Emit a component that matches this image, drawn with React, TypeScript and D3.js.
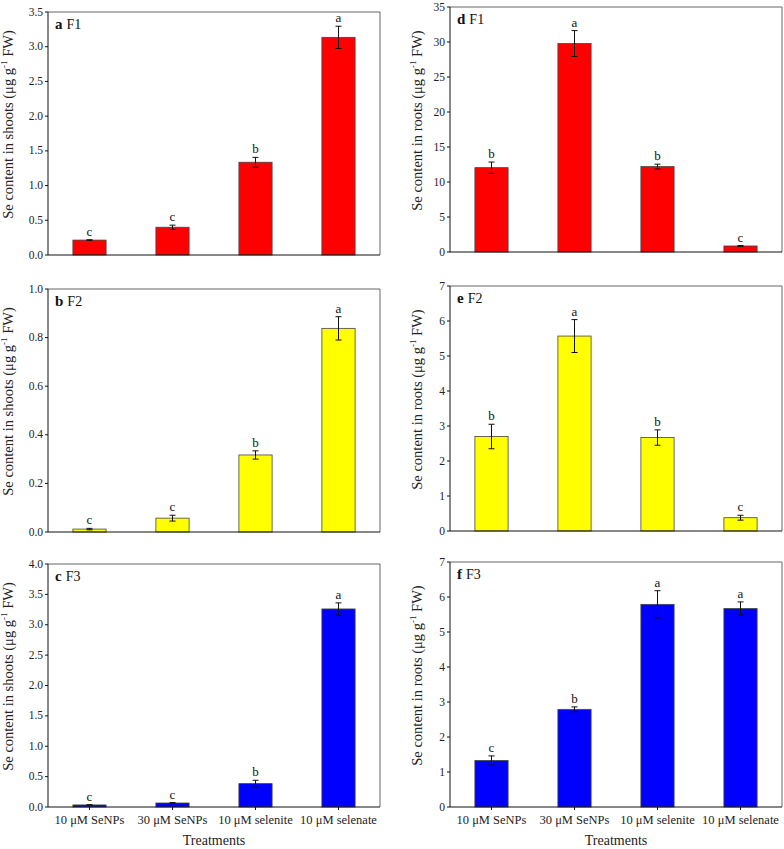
import React from "react";
import * as d3 from "d3";

const categories = ["10 μM SeNPs", "30 μM SeNPs", "10 μM selenite", "10 μM selenate"];

const shootF1 = [0.215, 0.4, 1.336, 3.135];
const shootF1Err = [0.005, 0.03, 0.07, 0.16];
const shootF1Sig = ["c", "c", "b", "a"];

const shootF2 = [0.012, 0.057, 0.317, 0.838];
const shootF2Err = [0.003, 0.012, 0.017, 0.048];
const shootF2Sig = ["c", "c", "b", "a"];

const shootF3 = [0.034, 0.066, 0.385, 3.26];
const shootF3Err = [0.004, 0.006, 0.055, 0.1];
const shootF3Sig = ["c", "c", "b", "a"];

const rootF1 = [12.05, 29.78, 12.2, 0.86];
const rootF1Err = [0.8, 1.85, 0.35, 0.06];
const rootF1Sig = ["b", "a", "b", "c"];

const rootF2 = [2.7, 5.57, 2.67, 0.38];
const rootF2Err = [0.35, 0.47, 0.22, 0.07];
const rootF2Sig = ["b", "a", "b", "c"];

const rootF3 = [1.33, 2.79, 5.79, 5.67];
const rootF3Err = [0.13, 0.07, 0.39, 0.19];
const rootF3Sig = ["c", "b", "a", "a"];

const shootTicksF1 = [0, 0.5, 1.0, 1.5, 2.0, 2.5, 3.0, 3.5];
const shootTicksF2 = [0, 0.2, 0.4, 0.6, 0.8, 1.0];
const shootTicksF3 = [0, 0.5, 1.0, 1.5, 2.0, 2.5, 3.0, 3.5, 4.0];
const rootTicksF1 = [0, 5, 10, 15, 20, 25, 30, 35];
const rootTicksF2 = [0, 1, 2, 3, 4, 5, 6, 7];
const rootTicksF3 = [0, 1, 2, 3, 4, 5, 6, 7];

const FONT = "'Liberation Serif', 'Times New Roman', serif";

type PanelProps = {
  x0: number; x1: number; y0: number; y1: number;
  values: number[]; errs: number[]; sig: string[];
  ticks: number[]; fmt: string; color: string;
  letter: string; fLabel: string; organ: string;
  showX: boolean; labelX: number;
};

function Panel(p: PanelProps) {
  const max = p.ticks[p.ticks.length - 1];
  const y = d3.scaleLinear().domain([0, max]).range([p.y1, p.y0]);
  const x = d3.scaleBand<string>().domain(categories).range([p.x0, p.x1]).paddingInner(0.6).paddingOuter(0.3);
  const band = d3.scaleBand<string>().domain(categories).range([p.x0, p.x1]);
  const f = d3.format(p.fmt);
  const cy = (p.y0 + p.y1) / 2 - 9;
  return (
    <g fontFamily={FONT}>
      <line x1={p.x0} x2={p.x1} y1={p.y0} y2={p.y0} stroke="#666" strokeWidth={1} />
      <line x1={p.x1} x2={p.x1} y1={p.y0} y2={p.y1} stroke="#666" strokeWidth={1} />
      {categories.map((c, i) => {
        const bx = x(c)!;
        const bw = x.bandwidth();
        const cx = band(c)! + band.bandwidth() / 2;
        const top = y(p.values[i]);
        const eTop = y(p.values[i] + p.errs[i]);
        const eBot = y(Math.max(0, p.values[i] - p.errs[i]));
        return (
          <g key={c}>
            <rect x={bx} y={top} width={bw} height={p.y1 - top} fill={p.color} stroke="#444" strokeWidth={0.8} />
            <line x1={cx} x2={cx} y1={eTop} y2={eBot} stroke="#111" strokeWidth={1} />
            <line x1={cx - 3} x2={cx + 3} y1={eTop} y2={eTop} stroke="#111" strokeWidth={1} />
            <line x1={cx - 3} x2={cx + 3} y1={eBot} y2={eBot} stroke="#111" strokeWidth={1} />
            <text x={cx} y={eTop - 4} textAnchor="middle" fontSize={13} fill="#111">{p.sig[i]}</text>
            {p.showX && (
              <>
                <line x1={cx} x2={cx} y1={p.y1} y2={p.y1 + 3} stroke="#111" />
                <text x={cx} y={p.y1 + 17} textAnchor="middle" fontSize={12.5} fill="#222">{c}</text>
              </>
            )}
          </g>
        );
      })}
      <line x1={p.x0} x2={p.x1} y1={p.y1} y2={p.y1} stroke="#111" strokeWidth={1} />
      <line x1={p.x0} x2={p.x0} y1={p.y0} y2={p.y1} stroke="#111" strokeWidth={1} />
      {p.ticks.map((t) => (
        <g key={t}>
          <line x1={p.x0 - 3} x2={p.x0} y1={y(t)} y2={y(t)} stroke="#111" />
          <text x={p.x0 - 5} y={y(t) + 3.5} textAnchor="end" fontSize={11.5} fill="#222">{f(t)}</text>
        </g>
      ))}
      <text x={p.x0 + 7} y={p.y0 + 17} fontSize={15} fill="#111">
        <tspan fontWeight="bold">{p.letter}</tspan>
        <tspan dx={4} fontSize={14}>{p.fLabel}</tspan>
      </text>
      <text transform={`translate(${p.labelX},${cy}) rotate(-90)`} textAnchor="middle" fontSize={14.5} fill="#222">
        {`Se content in ${p.organ} (μg g`}
        <tspan fontSize={9} dy={-6}>-1</tspan>
        <tspan dy={6}>{" FW)"}</tspan>
      </text>
      {p.showX && (
        <text x={(p.x0 + p.x1) / 2} y={845} textAnchor="middle" fontSize={14} fill="#222">Treatments</text>
      )}
    </g>
  );
}

export default function App() {
  return (
    <svg width={784} height={849} style={{ position: "absolute", left: 0, top: 0, background: "#fff" }}>
      <rect width={784} height={849} fill="#fff" />
      <Panel x0={48} x1={380} y0={12} y1={255} values={shootF1} errs={shootF1Err} sig={shootF1Sig}
        ticks={shootTicksF1} fmt=".1f" color="#ff0000" letter="a" fLabel="F1" organ="shoots" showX={false} labelX={13} />
      <Panel x0={48} x1={380} y0={289} y1={532} values={shootF2} errs={shootF2Err} sig={shootF2Sig}
        ticks={shootTicksF2} fmt=".1f" color="#ffff00" letter="b" fLabel="F2" organ="shoots" showX={false} labelX={13} />
      <Panel x0={48} x1={380} y0={564} y1={807} values={shootF3} errs={shootF3Err} sig={shootF3Sig}
        ticks={shootTicksF3} fmt=".1f" color="#0000ff" letter="c" fLabel="F3" organ="shoots" showX={true} labelX={13} />
      <Panel x0={450} x1={782} y0={7} y1={252} values={rootF1} errs={rootF1Err} sig={rootF1Sig}
        ticks={rootTicksF1} fmt="d" color="#ff0000" letter="d" fLabel="F1" organ="roots" showX={false} labelX={422} />
      <Panel x0={450} x1={782} y0={286} y1={531} values={rootF2} errs={rootF2Err} sig={rootF2Sig}
        ticks={rootTicksF2} fmt="d" color="#ffff00" letter="e" fLabel="F2" organ="roots" showX={false} labelX={422} />
      <Panel x0={450} x1={782} y0={562} y1={807} values={rootF3} errs={rootF3Err} sig={rootF3Sig}
        ticks={rootTicksF3} fmt="d" color="#0000ff" letter="f" fLabel="F3" organ="roots" showX={true} labelX={422} />
    </svg>
  );
}
